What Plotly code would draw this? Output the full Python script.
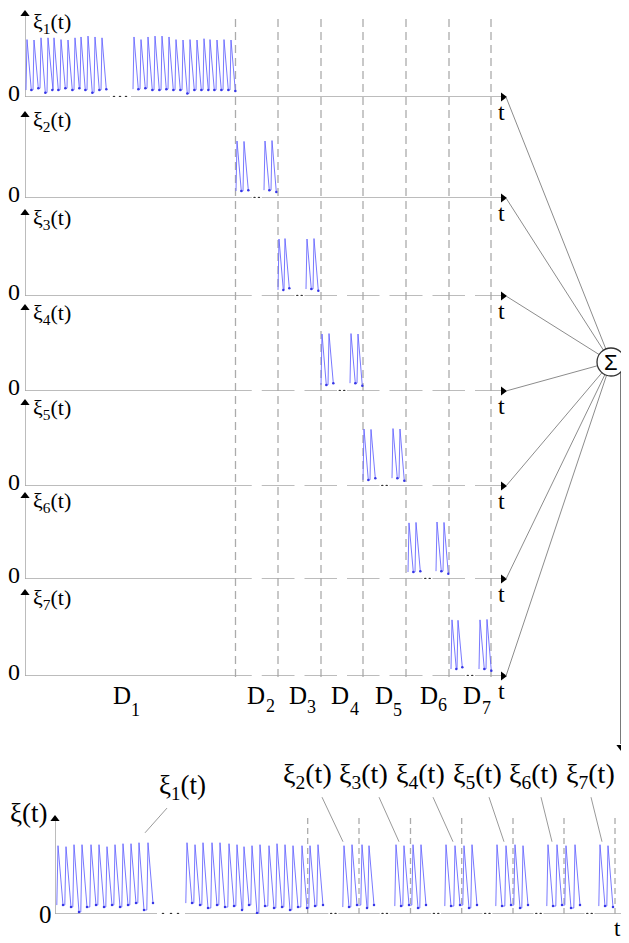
import plotly.graph_objects as go

# The page body keeps the browser's default 8 px margin, so the figure is
# sized to the visible area and reference pixel positions are shifted by it.
OFF = 8
W, H = 629 - OFF, 943 - OFF
SERIF = "Liberation Serif, Times New Roman, serif"
SIG_COLOR = "rgb(105,105,255)"
DOT_COLOR = "rgb(55,55,230)"
AXIS_GRAY = "#a6a6a6"
DASH_GRAY = "#ababab"
LINK_GRAY = "#8c8c8c"

# ====================== DATA ======================
# ---- upper stack: seven panels sharing one time axis (t units) ----
TOP_T_MAX = 482
TOP_D_ENDS = [210.5, 253, 296, 338, 381, 424, 466]          # right ends of D1..D7
TOP_LABELS = ["ξ<sub>1</sub>(t)", "ξ<sub>2</sub>(t)", "ξ<sub>3</sub>(t)", "ξ<sub>4</sub>(t)",
              "ξ<sub>5</sub>(t)", "ξ<sub>6</sub>(t)", "ξ<sub>7</sub>(t)"]
D_NAMES = ["D", "D", "D", "D", "D", "D", "D"]
D_SUBS = ["1", "2", "3", "4", "5", "6", "7"]
D_LABEL_T = [96.5, 231, 272.5, 315, 358.5, 403.5, 447]     # centre of the "D" letters

TOP_XI1_GAP = [85, 106]
TOP_XI1_DOTS = [89, 95, 101]

XI1_A_PEAK_T = [2, 9, 16, 23, 29, 36, 43, 50, 56, 63, 70, 77]
XI1_A_PEAK_V = [0.66, 0.655, 0.68, 0.68, 0.68, 0.66, 0.655, 0.68, 0.69, 0.70, 0.69, 0.68]
XI1_A_LOW_V = [0.08, 0.10, 0.05, 0.08, 0.08, 0.10, 0.08, 0.10, 0.08, 0.05, 0.08, 0.09]
XI1_B_PEAK_T = [109, 116, 123, 130, 137, 144, 151, 158, 165, 172, 179, 185, 192, 199, 206]
XI1_B_PEAK_V = [0.69, 0.66, 0.69, 0.70, 0.70, 0.69, 0.66, 0.655, 0.66, 0.655, 0.67, 0.66, 0.655, 0.66, 0.655]
XI1_B_LOW_V = [0.09, 0.10, 0.08, 0.08, 0.09, 0.08, 0.08, 0.04, 0.08, 0.08, 0.08, 0.08, 0.08, 0.08, 0.07]

XIK_PEAK_T = {
    2: [212, 219, 240, 247],
    3: [254, 260, 282, 289],
    4: [297, 304, 326, 333],
    5: [339, 346, 368, 375],
    6: [384, 391, 412, 419],
    7: [427, 433, 455, 462],
}
XIK_PEAK_V = {
    2: [0.655, 0.65, 0.655, 0.66],
    3: [0.655, 0.66, 0.655, 0.66],
    4: [0.655, 0.66, 0.66, 0.655],
    5: [0.655, 0.65, 0.66, 0.655],
    6: [0.645, 0.65, 0.655, 0.65],
    7: [0.645, 0.64, 0.645, 0.65],
}
XIK_LOW_V = {
    2: [0.08, 0.09, 0.09, 0.07],
    3: [0.07, 0.09, 0.08, 0.06],
    4: [0.07, 0.09, 0.09, 0.06],
    5: [0.07, 0.09, 0.09, 0.06],
    6: [0.08, 0.09, 0.09, 0.06],
    7: [0.08, 0.10, 0.08, 0.06],
}

# ---- bottom: the summed signal ξ(t) ----
BOT_T_MAX = 572
BOT_D_ENDS = [252.7, 304, 355.5, 406.7, 458, 509, 560]
BOT_XI1_GAP = [102, 130]
BOT_XI1_DOTS = [108, 116, 123]

BOT_XI1_A_T = [3, 11, 19, 27, 36, 44, 52, 60, 68, 76, 84, 93]
BOT_XI1_A_V = [0.69, 0.68, 0.70, 0.70, 0.70, 0.70, 0.68, 0.70, 0.71, 0.71, 0.72, 0.72]
BOT_XI1_A_LOW = [0.09, 0.07, 0.02, 0.07, 0.09, 0.07, 0.09, 0.07, 0.09, 0.11, 0.04, 0.11]
BOT_XI1_B_T = [132, 140, 148, 157, 165, 174, 182, 189, 197, 205, 214, 222, 230, 238, 247]
BOT_XI1_B_V = [0.72, 0.70, 0.72, 0.72, 0.72, 0.71, 0.70, 0.68, 0.69, 0.70, 0.69, 0.71, 0.70, 0.69, 0.69]
BOT_XI1_B_LOW = [0.11, 0.09, 0.06, 0.09, 0.07, 0.08, 0.04, 0.09, 0.01, 0.08, 0.06, 0.07, 0.04, 0.07, 0.06]

BOT_XIK_T = {
    2: [255, 263, 289, 297],
    3: [307, 314, 341, 349],
    4: [358, 366, 391, 400],
    5: [409, 417, 442, 451],
    6: [460, 468, 493, 502],
    7: [511, 520, 545, 553],
}
BOT_XIK_V = {
    2: [0.69, 0.70, 0.69, 0.70],
    3: [0.70, 0.69, 0.70, 0.69],
    4: [0.70, 0.70, 0.70, 0.69],
    5: [0.69, 0.70, 0.70, 0.69],
    6: [0.70, 0.69, 0.70, 0.70],
    7: [0.69, 0.70, 0.70, 0.69],
}
BOT_XIK_LOW = {
    2: [0.08, 0.09, 0.07, 0.09],
    3: [0.06, 0.09, 0.08, 0.09],
    4: [0.06, 0.09, 0.08, 0.09],
    5: [0.06, 0.09, 0.08, 0.09],
    6: [0.06, 0.09, 0.08, 0.09],
    7: [0.06, 0.09, 0.08, 0.07],
}
BOT_LABELS = ["ξ<sub>1</sub>(t)", "ξ<sub>2</sub>(t)", "ξ<sub>3</sub>(t)", "ξ<sub>4</sub>(t)",
              "ξ<sub>5</sub>(t)", "ξ<sub>6</sub>(t)", "ξ<sub>7</sub>(t)"]
BOT_LABEL_LEFT_T = [226, 282, 339, 396, 452, 509]
BOT_LEADER_FROM_T = [112, 267, 324, 378, 434, 486, 536]
BOT_LEADER_TO_T = [90, 288, 344, 398, 449, 497, 547]

# ====================== LAYOUT CONSTANTS (reference pixels) ======================
PANEL_BASE_PX = [97, 198, 296, 391, 486, 579, 676]
PANEL_H_PX = 87
TOP_X0_PX, TOP_X1_PX = 25, 507
BOT_BASE_PX, BOT_H_PX = 914, 99
BOT_YMAX = 1.75
BOT_X0_PX, BOT_X1_PX = 55, 627
SIGMA_PX = (611, 362)
SIGMA_R = 14


def px_x(px):
    return (px - OFF) / W


def px_y(py):
    return 1 - (py - OFF) / H


def wave(peaks_t, peaks_v, lows_v, rise, fall, start_v):
    xs, ys, mx, my = [], [], [], []
    prev = start_v
    for t, v, lo in zip(peaks_t, peaks_v, lows_v):
        xs += [t - rise, t, t + fall]
        ys += [prev, v, lo]
        mx.append(t + fall)
        my.append(lo)
        prev = lo
    return xs, ys, mx, my


fig = go.Figure()
shapes = []
annotations = []


def add_signal(xaxis, yaxis, peaks_t, peaks_v, lows_v, rise, fall):
    xs, ys, mx, my = wave(peaks_t, peaks_v, lows_v, rise, fall, lows_v[0])
    fig.add_trace(go.Scatter(x=xs, y=ys, mode="lines", xaxis=xaxis, yaxis=yaxis,
                             line=dict(color=SIG_COLOR, width=0.9), hoverinfo="skip"))
    fig.add_trace(go.Scatter(x=mx, y=my, mode="markers", xaxis=xaxis, yaxis=yaxis,
                             marker=dict(color=DOT_COLOR, size=2.5), hoverinfo="skip"))


def add_dots(xaxis, yaxis, ts):
    fig.add_trace(go.Scatter(x=ts, y=[0] * len(ts), mode="markers", xaxis=xaxis, yaxis=yaxis,
                             marker=dict(color="#333333", size=2.6), hoverinfo="skip"))


def add_heads(xaxis, yaxis, xs, ys, symbol):
    fig.add_trace(go.Scatter(x=xs, y=ys, mode="markers", xaxis=xaxis, yaxis=yaxis,
                             marker=dict(color="black", size=8, symbol=symbol, line=dict(width=0)),
                             cliponaxis=False, hoverinfo="skip"))


def hline(xref, yref, x0, x1, color=AXIS_GRAY, width=1.5):
    shapes.append(dict(type="line", xref=xref, yref=yref, x0=x0, x1=x1, y0=0, y1=0,
                       line=dict(color=color, width=width), layer="below"))


top_mids = [(TOP_D_ENDS[i] + TOP_D_ENDS[i + 1]) / 2 for i in range(len(TOP_D_ENDS) - 1)]
GAP_HALF = 5
TOP_LABEL_Y = [0.85, 0.88, 0.88, 0.88, 0.88, 0.88, 0.88]

# ---------- upper panels ----------
for i in range(7):
    ya = "y" if i == 0 else f"y{i + 1}"
    yref = ya
    if i == 0:
        hline("x", yref, 0, TOP_XI1_GAP[0])
        hline("x", yref, TOP_XI1_GAP[1], TOP_T_MAX - 4)
        add_dots("x", ya, TOP_XI1_DOTS)
    elif i == 1:
        hline("x", yref, 0, top_mids[0] - GAP_HALF)
        hline("x", yref, top_mids[0] + GAP_HALF, TOP_T_MAX - 4)
    else:
        start = 0
        for m in top_mids:
            hline("x", yref, start, m - GAP_HALF)
            start = m + GAP_HALF
        hline("x", yref, start, TOP_T_MAX - 4)
    if i >= 1:
        m = top_mids[i - 1]
        add_dots("x", ya, [m - 2.2, m + 2.2])
    shapes.append(dict(type="line", xref="x", yref=yref, x0=0, x1=0, y0=0, y1=0.95,
                       line=dict(color=AXIS_GRAY, width=1.5), layer="below"))
    add_heads("x", ya, [0], [1.0 - 4.0 / PANEL_H_PX], "triangle-up")
    add_heads("x", ya, [TOP_T_MAX - 4], [0], "triangle-right")
    annotations.append(dict(xref="paper", yref=yref, x=px_x(31), y=TOP_LABEL_Y[i], xanchor="left",
                            yanchor="middle", text=TOP_LABELS[i], showarrow=False,
                            font=dict(family=SERIF, size=22, color="black")))
    annotations.append(dict(xref="paper", yref=yref, x=px_x(14), y=0, yshift=4,
                            xanchor="center", yanchor="middle", text="0", showarrow=False,
                            font=dict(family=SERIF, size=24, color="black")))
    annotations.append(dict(xref="x", yref=yref, x=TOP_T_MAX - 6, y=0, yshift=-15,
                            xanchor="center", yanchor="middle", text="t", showarrow=False,
                            font=dict(family=SERIF, size=24, color="black")))
    shapes.append(dict(type="line", xref="paper", yref="paper",
                       x0=px_x(TOP_X1_PX - 1), y0=px_y(PANEL_BASE_PX[i]),
                       x1=px_x(SIGMA_PX[0]), y1=px_y(SIGMA_PX[1]),
                       line=dict(color=LINK_GRAY, width=1)))

add_signal("x", "y", XI1_A_PEAK_T, XI1_A_PEAK_V, XI1_A_LOW_V, 1.0, 4.3)
add_signal("x", "y", XI1_B_PEAK_T, XI1_B_PEAK_V, XI1_B_LOW_V, 1.0, 4.3)
for k in range(2, 8):
    ya = f"y{k}"
    add_signal("x", ya, XIK_PEAK_T[k][:2], XIK_PEAK_V[k][:2], XIK_LOW_V[k][:2], 1.0, 4.3)
    add_signal("x", ya, XIK_PEAK_T[k][2:], XIK_PEAK_V[k][2:], XIK_LOW_V[k][2:], 1.0, 4.3)

for d in TOP_D_ENDS:
    shapes.append(dict(type="line", xref="x", yref="paper", x0=d, x1=d,
                       y0=px_y(PANEL_BASE_PX[-1] + 1), y1=px_y(14),
                       line=dict(color=DASH_GRAY, width=1.3, dash="8px,5px"), layer="below"))

D_SUB_DY = [15, 11, 12, 14, 15, 10, 13]
for j in range(7):
    annotations.append(dict(xref="x", yref="paper", x=D_LABEL_T[j], y=px_y(695),
                            xanchor="center", yanchor="middle", text=D_NAMES[j], showarrow=False,
                            font=dict(family=SERIF, size=25, color="black")))
    annotations.append(dict(xref="x", yref="paper", x=D_LABEL_T[j] + 14, y=px_y(695 + D_SUB_DY[j]),
                            xanchor="center", yanchor="middle", text=D_SUBS[j], showarrow=False,
                            font=dict(family=SERIF, size=18, color="black")))

# sigma node
shapes.append(dict(type="line", xref="paper", yref="paper",
                   x0=px_x(621), x1=px_x(621), y0=px_y(372), y1=px_y(744),
                   line=dict(color="#4d4d4d", width=1.5)))
shapes.append(dict(type="circle", xref="paper", yref="paper",
                   x0=px_x(SIGMA_PX[0] - SIGMA_R), x1=px_x(SIGMA_PX[0] + SIGMA_R),
                   y0=px_y(SIGMA_PX[1] + SIGMA_R), y1=px_y(SIGMA_PX[1] - SIGMA_R),
                   fillcolor="white", line=dict(color="#333333", width=1.3), layer="above"))
annotations.append(dict(xref="paper", yref="paper", x=px_x(SIGMA_PX[0]), y=px_y(SIGMA_PX[1]),
                        text="Σ", showarrow=False, xanchor="center", yanchor="middle",
                        font=dict(family="Liberation Sans", size=22, color="black")))

# ---------- bottom panel ----------
bot_mids = [(BOT_D_ENDS[i] + BOT_D_ENDS[i + 1]) / 2 for i in range(len(BOT_D_ENDS) - 1)]
start = BOT_XI1_GAP[1]
hline("x2", "y8", 0, BOT_XI1_GAP[0])
for m in bot_mids:
    hline("x2", "y8", start, m - GAP_HALF)
    add_dots("x2", "y8", [m - 2.2, m + 2.2])
    start = m + GAP_HALF
hline("x2", "y8", start, BOT_T_MAX - 4)
add_dots("x2", "y8", BOT_XI1_DOTS)
shapes.append(dict(type="line", xref="x2", yref="y8", x0=0, x1=0, y0=0, y1=0.96,
                   line=dict(color=AXIS_GRAY, width=1.5), layer="below"))
add_heads("x2", "y8", [0], [1.0 - 4.0 / BOT_H_PX], "triangle-up")
add_heads("x2", "y8", [BOT_T_MAX - 4], [0], "triangle-right")
# arrow from the Σ node lands here (head drawn on the bottom axes)
add_heads("x2", "y8", [621 - BOT_X0_PX], [(BOT_BASE_PX - 747) / BOT_H_PX], "triangle-down")
for d in BOT_D_ENDS:
    shapes.append(dict(type="line", xref="x2", yref="y8", x0=d, x1=d, y0=0, y1=0.98,
                       line=dict(color=DASH_GRAY, width=1.3, dash="6px,4px"), layer="below"))

add_signal("x2", "y8", BOT_XI1_A_T, BOT_XI1_A_V, BOT_XI1_A_LOW, 1.2, 5.0)
add_signal("x2", "y8", BOT_XI1_B_T + BOT_XIK_T[2][:2], BOT_XI1_B_V + BOT_XIK_V[2][:2],
           BOT_XI1_B_LOW + BOT_XIK_LOW[2][:2], 1.2, 5.0)
for k in range(2, 8):
    pt = BOT_XIK_T[k][2:]
    pv = BOT_XIK_V[k][2:]
    pl = BOT_XIK_LOW[k][2:]
    if k < 7:
        pt = pt + BOT_XIK_T[k + 1][:2]
        pv = pv + BOT_XIK_V[k + 1][:2]
        pl = pl + BOT_XIK_LOW[k + 1][:2]
    add_signal("x2", "y8", pt, pv, pl, 1.2, 5.0)

annotations.append(dict(xref="paper", yref="y8", x=px_x(29), y=1.02, xanchor="center",
                        yanchor="middle", text="ξ(t)", showarrow=False,
                        font=dict(family=SERIF, size=27, color="black")))
annotations.append(dict(xref="paper", yref="y8", x=px_x(45), y=0, xanchor="center",
                        yanchor="middle", text="0", showarrow=False,
                        font=dict(family=SERIF, size=25, color="black")))
annotations.append(dict(xref="x2", yref="y8", x=BOT_T_MAX - 10, y=0, yshift=-14, xanchor="center",
                        yanchor="middle", text="t", showarrow=False,
                        font=dict(family=SERIF, size=23, color="black")))
annotations.append(dict(xref="x2", yref="y8", x=127, y=1.28, xanchor="center", yanchor="middle",
                        text=BOT_LABELS[0], showarrow=False,
                        font=dict(family=SERIF, size=27, color="black")))
for j in range(1, 7):
    annotations.append(dict(xref="x2", yref="y8", x=BOT_LABEL_LEFT_T[j - 1], y=1.40,
                            xanchor="left", yanchor="middle", text=BOT_LABELS[j], showarrow=False,
                            font=dict(family=SERIF, size=28, color="black")))
for j in range(7):
    y_from = 1.07 if j == 0 else 1.18
    y_to = 0.82 if j == 0 else 0.73
    shapes.append(dict(type="line", xref="x2", yref="y8", x0=BOT_LEADER_FROM_T[j],
                       x1=BOT_LEADER_TO_T[j], y0=y_from, y1=y_to,
                       line=dict(color="#9a9a9a", width=1)))

# ---------- axes ----------
layout_axes = {}
layout_axes["xaxis"] = dict(domain=[px_x(TOP_X0_PX), px_x(TOP_X1_PX)], range=[0, TOP_T_MAX],
                            visible=False, anchor="y")
layout_axes["xaxis2"] = dict(domain=[px_x(BOT_X0_PX), px_x(BOT_X1_PX)], range=[0, BOT_T_MAX],
                             visible=False, anchor="y8")
for i in range(7):
    key = "yaxis" if i == 0 else f"yaxis{i + 1}"
    b = PANEL_BASE_PX[i]
    layout_axes[key] = dict(domain=[px_y(b), px_y(b - PANEL_H_PX)], range=[0, 1],
                            visible=False, anchor="x")
layout_axes["yaxis8"] = dict(domain=[px_y(BOT_BASE_PX), px_y(BOT_BASE_PX - BOT_H_PX * BOT_YMAX)],
                             range=[0, BOT_YMAX], visible=False, anchor="x2")

fig.update_layout(
    width=W, height=H, margin=dict(l=0, r=0, t=0, b=0),
    paper_bgcolor="white", plot_bgcolor="rgba(0,0,0,0)",
    showlegend=False, shapes=shapes, annotations=annotations,
    **layout_axes,
)
fig.write_html("out.html")
